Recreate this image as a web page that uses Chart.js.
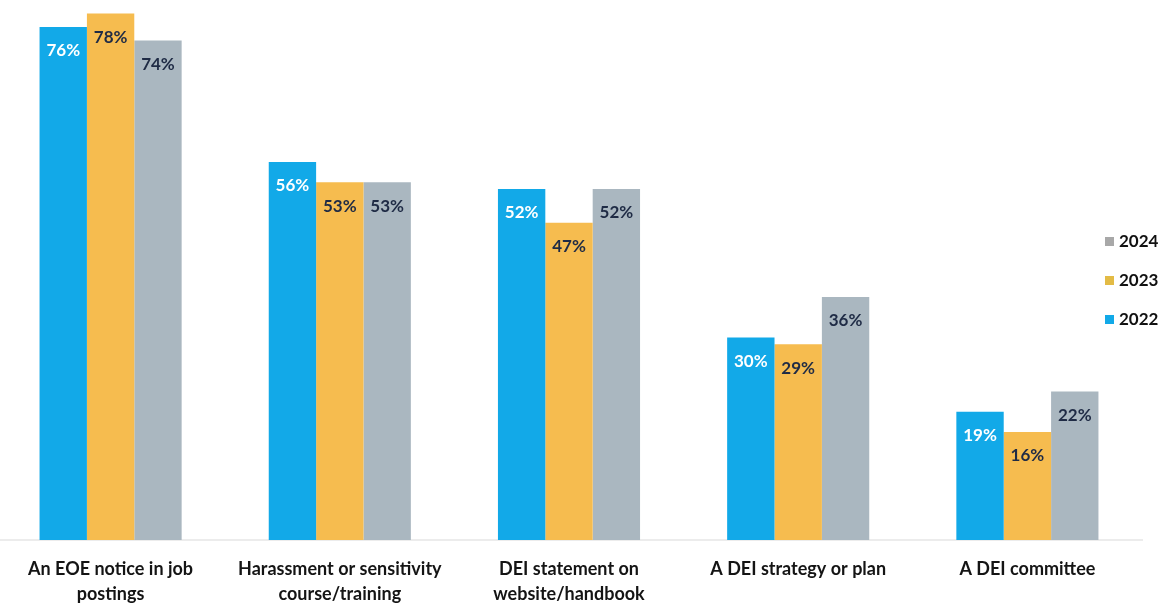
<!DOCTYPE html>
<html>
<head>
<meta charset="utf-8">
<script src="https://cdn.jsdelivr.net/npm/chart.js@4.4.1/dist/chart.umd.min.js"></script>
<style>
  html, body { margin: 0; padding: 0; background: #fff; }
  #wrap { position: absolute; left: -4px; top: 0; width: 1177px; height: 605px; }
</style>
</head>
<body>
<div id="wrap"><canvas id="myChart"></canvas></div>
<script>
const categories = [
    ["An EOE notice in job", "postings"],
    ["Harassment or sensitivity", "course/training"],
    ["DEI statement on", "website/handbook"],
    ["A DEI strategy or plan"],
    ["A DEI committee"]
];
const years = ["2022", "2023", "2024"];
const values2022 = [76, 56, 52, 30, 19];
const values2023 = [78, 53, 47, 29, 16];
const values2024 = [74, 53, 52, 36, 22];
const barColors = ["#12a9e8", "#f6bc4f", "#aab7c0"];
const labelColors = ["#ffffff", "#1f2b45", "#1f2b45"];
const fontName = "Lato, 'Open Sans', sans-serif";

// value labels sit inside each bar, a little under its top
const valueLabels = {
    id: "valueLabels",
    afterDatasetsDraw(chart) {
        let ctx = chart.ctx;
        ctx.save();
        ctx.font = "bold 17px " + fontName;
        ctx.textAlign = "center";
        ctx.textBaseline = "middle";
        chart.data.datasets.forEach(function(ds, i) {
            let meta = chart.getDatasetMeta(i);
            meta.data.forEach(function(bar, j) {
                ctx.fillStyle = labelColors[i];
                ctx.fillText(ds.data[j] + "%", bar.x, bar.y + 24);
            });
        });
        ctx.restore();
    }
};

// legend on the right, newest year first
const sideLegend = {
    id: "sideLegend",
    afterDraw(chart) {
        let ctx = chart.ctx;
        ctx.save();
        ctx.font = "bold 17px " + fontName;
        ctx.textAlign = "left";
        ctx.textBaseline = "middle";
        let rows = [2, 1, 0];
        for (let k = 0; k < rows.length; k++) {
            let y = 241 + k * 39;
            let i = rows[k];
            ctx.fillStyle = i == 2 ? "#a8a8a8" : (i == 1 ? "#e3bb45" : barColors[0]);
            ctx.fillRect(1109, y - 4, 9, 9);
            ctx.fillStyle = "#111111";
            ctx.fillText(years[i], 1123, y + 1);
        }
        ctx.restore();
    }
};

let canvas = document.getElementById("myChart").getContext("2d");
let myChart = new Chart(canvas, {
    type: "bar",
    data: {
        labels: categories,
        datasets: [
            { label: years[0], data: values2022, backgroundColor: barColors[0] },
            { label: years[1], data: values2023, backgroundColor: barColors[1] },
            { label: years[2], data: values2024, backgroundColor: barColors[2] }
        ]
    },
    options: {
        responsive: true,
        maintainAspectRatio: false,
        animation: false,
        layout: { padding: { left: 0, right: 31, top: 0, bottom: 0 } },
        datasets: { bar: { categoryPercentage: 0.62, barPercentage: 1.0 } },
        plugins: {
            legend: { display: false },
            tooltip: { enabled: false }
        },
        scales: {
            x: {
                grid: { display: false, drawTicks: false },
                border: { display: true, color: "#ececec", width: 2 },
                ticks: {
                    color: "#141414",
                    font: { family: fontName, size: 18, weight: "bold", lineHeight: 1.39 },
                    padding: 17,
                    maxRotation: 0,
                    autoSkip: false
                },
                afterFit: function(scale) { scale.height = 65; }
            },
            y: {
                display: false,
                min: 0,
                max: 80
            }
        }
    },
    plugins: [valueLabels, sideLegend]
});
</script>
</body>
</html>
